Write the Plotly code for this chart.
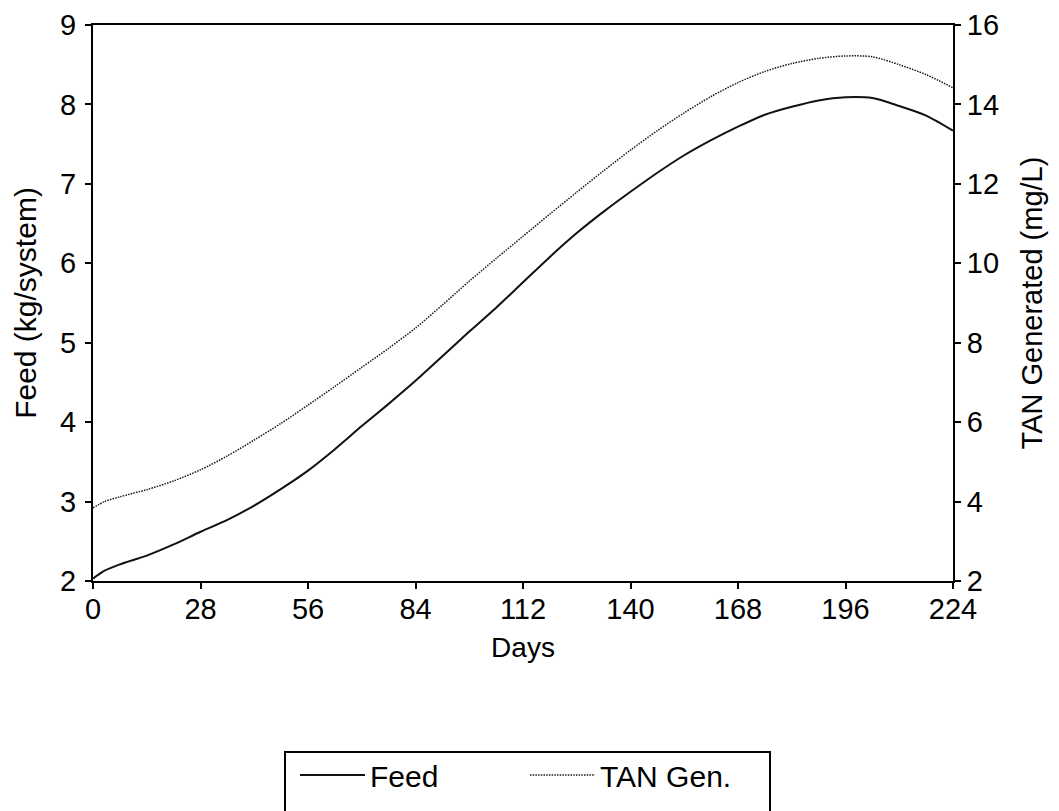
import plotly.graph_objects as go

days = [0, 3, 7, 14, 21, 28, 35, 42, 49, 56, 63, 70, 77, 84, 91, 98, 105, 112,
        119, 126, 133, 140, 147, 154, 161, 168, 175, 182, 189, 196, 203, 210, 217, 224]
feed = [2.03, 2.13, 2.21, 2.32, 2.46, 2.62, 2.77, 2.95, 3.16, 3.39, 3.66, 3.95, 4.23, 4.52,
        4.83, 5.14, 5.44, 5.76, 6.08, 6.38, 6.65, 6.90, 7.14, 7.36, 7.55, 7.72, 7.87, 7.97,
        8.05, 8.09, 8.08, 7.98, 7.86, 7.67]
tan_gen = [3.84, 4.00, 4.12, 4.30, 4.52, 4.80, 5.15, 5.55, 5.97, 6.43, 6.90, 7.38, 7.86, 8.37,
           8.95, 9.55, 10.12, 10.68, 11.24, 11.79, 12.33, 12.85, 13.34, 13.79, 14.20, 14.55,
           14.83, 15.03, 15.16, 15.22, 15.20, 15.00, 14.75, 14.42]
x_ticks = [0, 28, 56, 84, 112, 140, 168, 196, 224]

FONT = "Liberation Sans, Arial, Helvetica, sans-serif"

OFF = 8  # page body margin
L, R, T, B = 85, 114, 17, 238
PW, PH = 1059 - L - R, 811 - T - B


def px_x(p):
    return (p - OFF - L) / PW


def px_y(p):
    return (811 - B - (p - OFF)) / PH


fig = go.Figure()
fig.add_trace(go.Scatter(x=days, y=feed, name="Feed", mode="lines",
                         line=dict(color="#111111", width=2, shape="spline", smoothing=0.8)))
fig.add_trace(go.Scatter(x=days, y=tan_gen, name="TAN Gen.", mode="lines", yaxis="y2",
                         line=dict(color="#1a1a1a", width=1.5, dash="1.5px,1.2px",
                                   shape="spline", smoothing=0.8)))

axis_common = dict(showgrid=False, zeroline=False, showline=True, linecolor="black",
                   linewidth=2, ticks="outside", ticklen=6, tickwidth=1.5,
                   tickcolor="black", automargin=False, tickfont=dict(size=29))

fig.update_layout(
    width=1059, height=811,
    margin=dict(l=L, r=R, t=T, b=B, autoexpand=False),
    paper_bgcolor="white", plot_bgcolor="white",
    font=dict(family=FONT, size=28, color="black"),
    xaxis=dict(range=[0, 224], tickvals=x_ticks, mirror=True, ticklabelstandoff=-5,
               title=dict(text="Days", standoff=14, font=dict(size=28)), **axis_common),
    yaxis=dict(range=[2, 9], dtick=1, ticklabelstandoff=3,
               title=dict(text="Feed (kg/system)", standoff=15, font=dict(size=30)),
               **axis_common),
    yaxis2=dict(range=[2, 16], dtick=2, overlaying="y", side="right",
                title=dict(text="TAN Generated (mg/L)", standoff=24, font=dict(size=29)),
                **axis_common),
    showlegend=True,
    legend=dict(orientation="h", x=px_x(295), y=px_y(749), xanchor="left", yanchor="top",
                bgcolor="rgba(0,0,0,0)", borderwidth=0, itemwidth=65,
                entrywidth=150, entrywidthmode="pixels",
                font=dict(size=30, family=FONT)),
    shapes=[dict(type="rect", xref="paper", yref="paper",
                 x0=px_x(285), x1=px_x(770), y0=px_y(752), y1=px_y(845),
                 line=dict(color="black", width=2), fillcolor="rgba(0,0,0,0)")],
)

fig.write_html("out.html")
